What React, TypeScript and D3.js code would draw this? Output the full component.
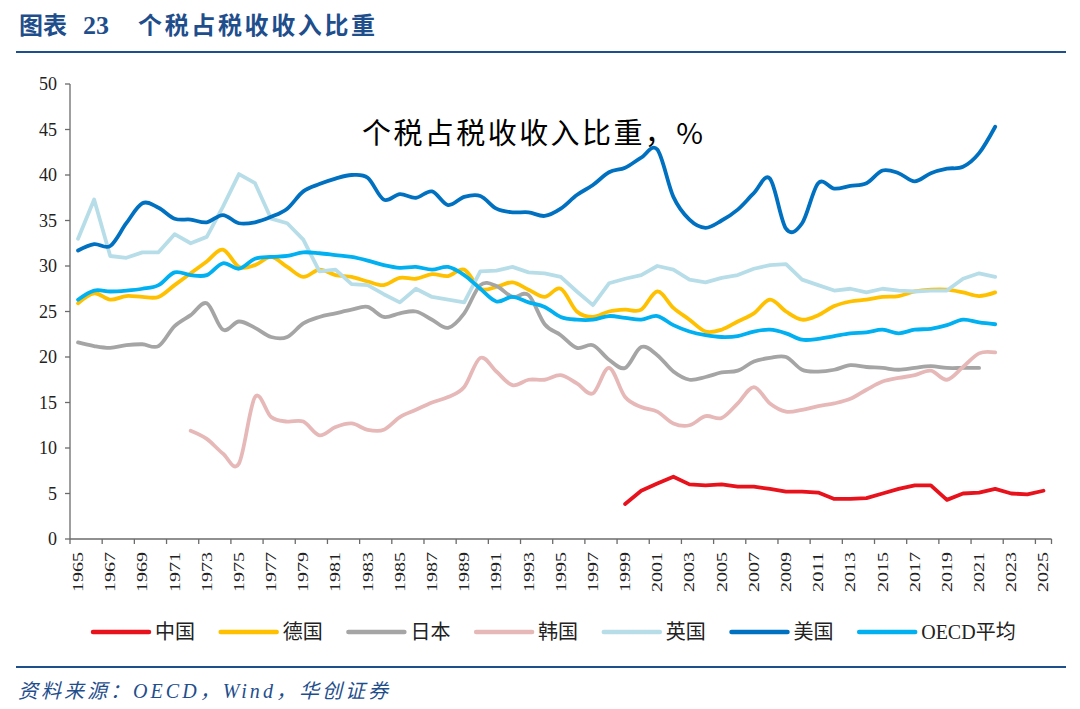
import React, { useEffect } from 'react';
import * as d3 from 'd3';

// categories
const YEARS = d3.range(1965, 2026).map(String);
const Y_TICKS = [0, 5, 10, 15, 20, 25, 30, 35, 40, 45, 50];

// series values (start year noted)
const chinaStart = 1999;
const chinaValues = [3.85, 5.3, 6.1, 6.85, 6.0, 5.9, 6.0, 5.75, 5.75, 5.5, 5.2, 5.2, 5.1, 4.4, 4.4, 4.5, 5.0, 5.5, 5.9, 5.9, 4.3, 5.0, 5.1, 5.5, 5.0, 4.9, 5.3];

const germanyStart = 1965;
const germanyValues = [25.9, 27.0, 26.3, 26.7, 26.6, 26.6, 27.9, 29.2, 30.5, 31.8, 29.9, 30.1, 31.0, 29.9, 28.8, 29.6, 29.0, 28.8, 28.3, 27.9, 28.7, 28.6, 29.1, 28.9, 29.6, 27.5, 27.7, 28.2, 27.4, 26.6, 27.5, 25.0, 24.4, 25.0, 25.2, 25.2, 27.2, 25.4, 24.1, 22.8, 23.0, 23.9, 24.8, 26.3, 25.0, 24.1, 24.6, 25.6, 26.1, 26.3, 26.6, 26.7, 27.2, 27.4, 27.4, 27.1, 26.7, 27.1];

const japanStart = 1965;
const japanValues = [21.6, 21.2, 21.0, 21.3, 21.4, 21.2, 23.4, 24.6, 25.9, 23.0, 23.9, 23.2, 22.2, 22.2, 23.7, 24.4, 24.8, 25.2, 25.5, 24.4, 24.8, 25.0, 24.1, 23.2, 24.8, 27.9, 27.8, 26.6, 26.8, 23.6, 22.4, 21.0, 21.3, 19.7, 18.8, 21.1, 20.2, 18.4, 17.5, 17.8, 18.3, 18.5, 19.5, 19.9, 20.0, 18.6, 18.4, 18.6, 19.1, 18.9, 18.8, 18.6, 18.8, 19.0, 18.8, 18.8, 18.8];

const koreaStart = 1972;
const koreaValues = [11.9, 11.0, 9.4, 8.3, 15.6, 13.4, 12.9, 12.9, 11.4, 12.3, 12.7, 12.0, 12.0, 13.4, 14.2, 15.0, 15.6, 16.7, 19.9, 18.4, 16.9, 17.5, 17.5, 18.0, 17.1, 16.0, 18.8, 15.6, 14.5, 14.0, 12.7, 12.5, 13.5, 13.3, 14.9, 16.7, 14.9, 14.0, 14.2, 14.6, 14.9, 15.4, 16.4, 17.3, 17.7, 18.0, 18.5, 17.5, 18.9, 20.4, 20.5];

const ukStart = 1965;
const ukValues = [33.0, 37.3, 31.1, 30.9, 31.5, 31.5, 33.5, 32.5, 33.2, 36.5, 40.1, 39.1, 35.2, 34.7, 32.9, 29.4, 29.6, 28.0, 27.9, 26.9, 26.0, 27.5, 26.6, 26.3, 26.0, 29.4, 29.5, 29.9, 29.3, 29.2, 28.8, 27.2, 25.7, 28.1, 28.6, 29.0, 30.0, 29.6, 28.5, 28.2, 28.7, 29.0, 29.7, 30.1, 30.2, 28.5, 27.9, 27.3, 27.5, 27.1, 27.5, 27.3, 27.2, 27.3, 27.3, 28.6, 29.2, 28.8];

const usStart = 1965;
const usValues = [31.7, 32.4, 32.2, 34.7, 36.9, 36.4, 35.2, 35.1, 34.8, 35.6, 34.7, 34.8, 35.4, 36.3, 38.2, 39.0, 39.6, 40.0, 39.7, 37.3, 37.9, 37.5, 38.2, 36.7, 37.6, 37.7, 36.3, 35.9, 35.9, 35.5, 36.3, 37.8, 38.9, 40.3, 40.8, 41.9, 42.8, 37.6, 35.1, 34.2, 35.0, 36.2, 38.0, 39.6, 34.1, 34.7, 39.1, 38.5, 38.8, 39.1, 40.5, 40.2, 39.3, 40.2, 40.7, 40.9, 42.4, 45.3];

const oecdStart = 1965;
const oecdValues = [26.3, 27.3, 27.2, 27.3, 27.5, 27.9, 29.3, 29.0, 29.0, 30.3, 29.7, 30.8, 31.0, 31.1, 31.5, 31.4, 31.2, 31.0, 30.6, 30.1, 29.8, 29.9, 29.6, 29.9, 29.0, 27.5, 26.1, 26.6, 26.0, 25.5, 24.4, 24.1, 24.1, 24.5, 24.3, 24.1, 24.5, 23.5, 22.8, 22.4, 22.2, 22.3, 22.8, 23.0, 22.6, 21.9, 22.0, 22.3, 22.6, 22.7, 23.0, 22.6, 23.0, 23.1, 23.5, 24.1, 23.8, 23.6];

const series = [
  { name: '中国', color: '#E8121C', start: chinaStart, values: chinaValues, smooth: false },
  { name: '德国', color: '#FFC000', start: germanyStart, values: germanyValues, smooth: true },
  { name: '日本', color: '#A5A5A5', start: japanStart, values: japanValues, smooth: true },
  { name: '韩国', color: '#E6B9B8', start: koreaStart, values: koreaValues, smooth: true },
  { name: '英国', color: '#B7DEE8', start: ukStart, values: ukValues, smooth: false },
  { name: '美国', color: '#0070C0', start: usStart, values: usValues, smooth: true },
  { name: 'OECD平均', color: '#00B0F0', start: oecdStart, values: oecdValues, smooth: true },
];

const W = 1080;
const H = 709;
const BLUE = '#1F4E8C';
const CJK = '"Noto Sans CJK SC", sans-serif';
const SERIF = '"Liberation Serif", "Noto Sans CJK SC", serif';

export default function App() {
  useEffect(() => {
    document.body.style.margin = '0';
  }, []);

  const plot = { left: 70, right: 1051.5, top: 84, bottom: 539 };

  const x = d3.scaleBand().domain(YEARS).range([plot.left, plot.right]);
  const bw = x.bandwidth();
  const cx = (yr: number) => (x(String(yr)) ?? 0) + bw / 2;
  const y = d3.scaleLinear().domain([0, 50]).range([plot.bottom, plot.top]);

  type P = { yr: number; v: number };
  const mkLine = (smooth: boolean) =>
    d3.line<P>()
      .x(d => cx(d.yr))
      .y(d => y(d.v))
      .curve(smooth ? d3.curveCardinal.tension(0) : d3.curveLinear);

  // ticks every two categories (left edge of odd years), plus axis end
  const xTicks = YEARS.filter((_, i) => i % 2 === 0).map(s => x(s) ?? 0).concat([plot.right]);
  const xLabels = YEARS.filter((_, i) => i % 2 === 0);

  const legendX = (i: number) => 93 + i * 127.7;
  const legendY = 632;

  return (
    <svg width={W} height={H} viewBox={`0 0 ${W} ${H}`} style={{ display: 'block', background: '#fff' }}>
      {/* header */}
      <text y={34} fill={BLUE} fontWeight="bold" fontSize={24}>
        <tspan x={19} fontFamily={CJK}>图表</tspan>
        <tspan x={83} fontFamily='"Liberation Serif", serif' fontSize={26}>23</tspan>
        <tspan x={138} fontFamily={CJK} textLength={237} lengthAdjust="spacing">个税占税收收入比重</tspan>
      </text>
      <line x1={16} x2={1066} y1={52} y2={52} stroke={BLUE} strokeWidth={2} />

      {/* inner title */}
      <text x={362} y={144} fontFamily={CJK} fontSize={29} fill="#000" textLength={341} lengthAdjust="spacing">个税占税收收入比重，%</text>

      {/* y axis */}
      <line x1={plot.left} x2={plot.left} y1={plot.top} y2={plot.bottom} stroke="#6b6b6b" strokeWidth={1.3} />
      {Y_TICKS.map(t => (
        <g key={t}>
          <line x1={plot.left - 5} x2={plot.left} y1={y(t)} y2={y(t)} stroke="#6b6b6b" strokeWidth={1.3} />
          <text x={57} y={y(t)} dy="0.35em" textAnchor="end" fontFamily={SERIF} fontSize={18} fill="#222">{t}</text>
        </g>
      ))}

      {/* x axis */}
      <line x1={plot.left} x2={plot.right} y1={plot.bottom} y2={plot.bottom} stroke="#6b6b6b" strokeWidth={1.3} />
      {xTicks.map((tx, i) => (
        <line key={i} x1={tx} x2={tx} y1={plot.bottom} y2={plot.bottom + 5} stroke="#6b6b6b" strokeWidth={1.3} />
      ))}
      {xLabels.map(s => (
        <text
          key={s}
          transform={`translate(${cx(+s) + 5},${plot.bottom + 13}) rotate(-90)`}
          textAnchor="end"
          fontFamily={SERIF}
          fontSize={15}
          fill="#222"
          textLength={40}
          lengthAdjust="spacingAndGlyphs"
        >{s}</text>
      ))}

      {/* series */}
      {series.map(s => {
        const pts: P[] = s.values.map((v, i) => ({ yr: s.start + i, v }));
        return (
          <path
            key={s.name}
            d={mkLine(s.smooth)(pts) ?? ''}
            fill="none"
            stroke={s.color}
            strokeWidth={3.8}
            strokeLinejoin="round"
            strokeLinecap="round"
          />
        );
      })}

      {/* legend */}
      {series.map((s, i) => (
        <g key={s.name}>
          <line x1={legendX(i)} x2={legendX(i) + 56} y1={legendY} y2={legendY} stroke={s.color} strokeWidth={4.5} strokeLinecap="round" />
          <text x={legendX(i) + 62} y={legendY} dy="0.36em" fontFamily={SERIF} fontSize={20} fill="#222">{s.name}</text>
        </g>
      ))}

      {/* footer */}
      <line x1={16} x2={1066} y1={667} y2={667} stroke={BLUE} strokeWidth={2} />
      <text x={18} y={698} fontFamily={SERIF} fontStyle="italic" fontSize={20} fill={BLUE} textLength={370} lengthAdjust="spacing">资料来源：OECD，Wind，华创证券</text>
    </svg>
  );
}
